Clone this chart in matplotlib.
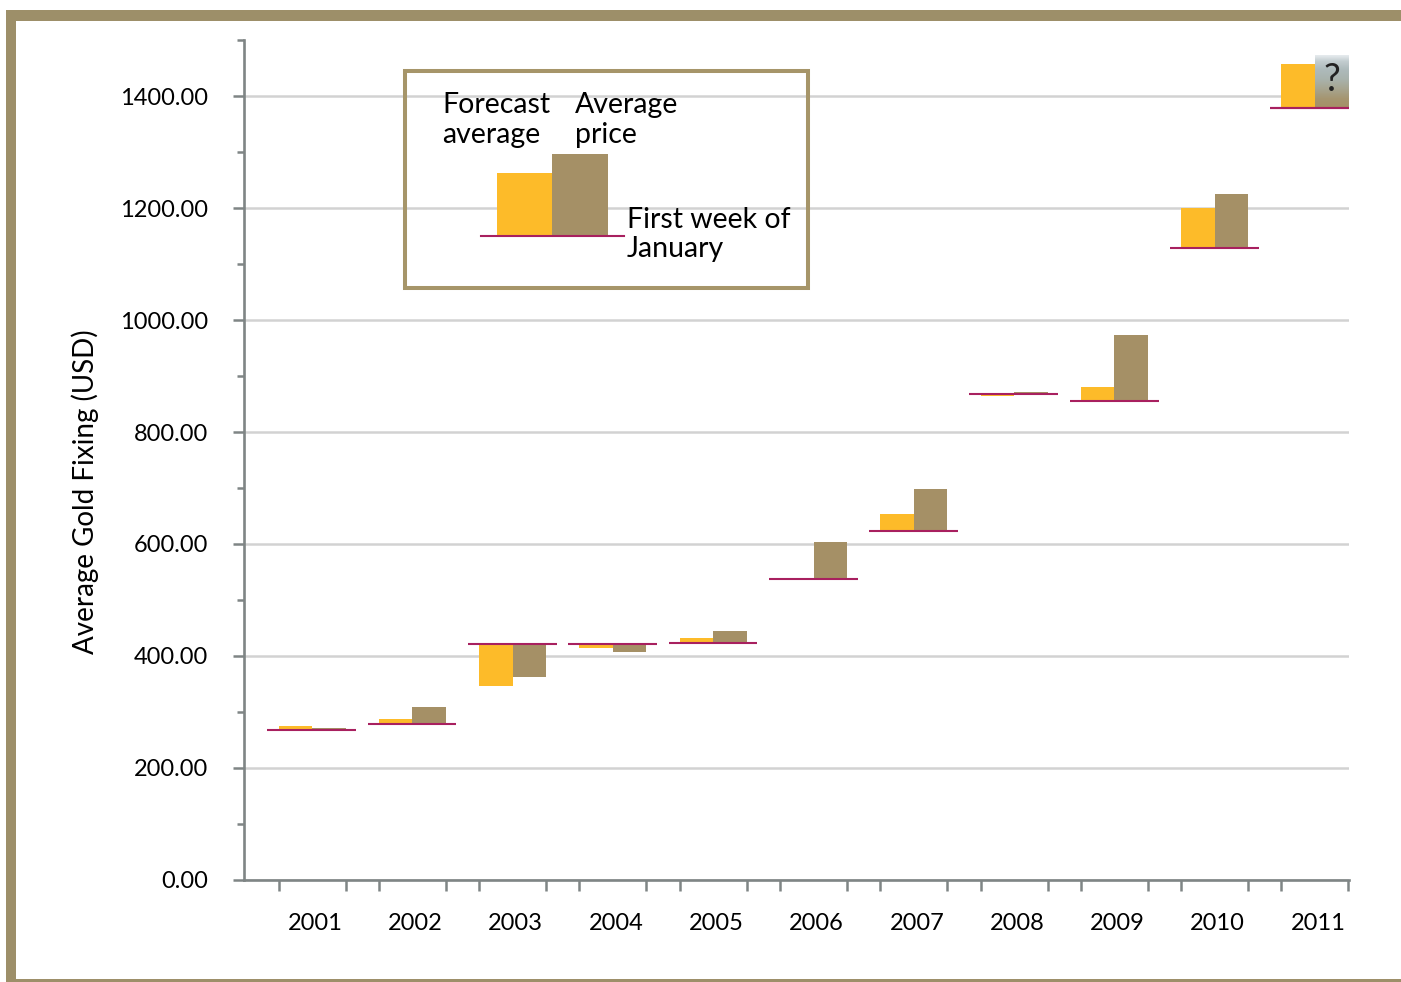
import numpy as np
import matplotlib
matplotlib.use('Agg')
import matplotlib.pyplot as plt
from matplotlib.patches import Rectangle
from matplotlib.lines import Line2D
from matplotlib.colors import LinearSegmentedColormap
from matplotlib.transforms import Affine2D

plt.rcParams['font.family'] = ['Lato', 'DejaVu Sans']

# ---- data ----
years = ['2001', '2002', '2003', '2004', '2005', '2006', '2007', '2008', '2009', '2010', '2011']
first_week = [267, 279, 421, 421, 424, 537, 624, 868, 856, 1129, 1379]
forecast = [275, 288, 346, 415, 433, 535, 653, 864, 880, 1200, 1458]
average = [271, 309, 363, 408, 445, 603, 699, 872, 973, 1225, 1473]
y_ticks = [0, 200, 400, 600, 800, 1000, 1200, 1400]
y_minor = [100, 300, 500, 700, 900, 1100, 1300, 1500]

# ---- style ----
ORANGE = '#FDBB29'
BROWN = '#A59066'
MAGENTA = '#A8205F'
AXGRAY = '#7F8585'
GRID = '#D2D2D2'
BORDER = '#9D8F69'

W, H = 1401, 982
fig = plt.figure(figsize=(W / 100, H / 100), dpi=100)
tp = Affine2D().scale(1 / W, -1 / H).translate(0, 1) + fig.transFigure

ax = fig.add_axes([244 / W, 1 - 880 / H, (1349 - 244) / W, (880 - 40) / H])

x = np.arange(len(years))
fw = np.array(first_week, dtype=float)
fc = np.array(forecast, dtype=float)
av = np.array(average, dtype=float)
bw = 0.334

ax.bar(x - bw / 2, fc - fw, bottom=fw, width=bw, color=ORANGE, zorder=3)
bars = ax.bar(x + bw / 2, av - fw, bottom=fw, width=bw, color=BROWN, zorder=3)
ax.hlines(fw, x - 0.445, x + 0.44, color=MAGENTA, lw=1.5, zorder=4)

# unknown 2011 average: gradient box with question mark
r = bars[-1]
x0, x1 = r.get_x(), r.get_x() + r.get_width()
y0, y1 = r.get_y(), r.get_y() + r.get_height()
cmap = LinearSegmentedColormap.from_list('q', [
    (0.0, '#A59066'), (0.17, '#A59570'), (0.36, '#A7A590'),
    (0.55, '#A9B3AD'), (0.74, '#AEBBBC'), (0.89, '#C3CDD0'), (1.0, '#E6EBEE')])
grad = np.linspace(1, 0, 100).reshape(-1, 1)
ax.imshow(grad, extent=[x0, x1, y0, y1], aspect='auto', cmap=cmap, zorder=3.5,
          interpolation='bilinear')
ax.hlines([fw[-1]], x[-1] - 0.445, x[-1] + 0.44, color=MAGENTA, lw=1.5, zorder=4)
ax.text(x[-1] + bw / 2, (y0 + y1) / 2 + 3, '?', ha='center', va='center',
        fontsize=27, color='#222222', zorder=6)

# axes
ax.set_xlim(-0.678, 10.339)
ax.set_ylim(0, 1500)
for s in ['top', 'right']:
    ax.spines[s].set_visible(False)
for s in ['left', 'bottom']:
    ax.spines[s].set_color(AXGRAY)
    ax.spines[s].set_linewidth(1.9)

ax.set_yticks(y_ticks)
ax.set_yticklabels([f'{v:.2f}' for v in y_ticks])
ax.set_yticks(y_minor, minor=True)
ax.yaxis.grid(True, which='major', color=GRID, lw=1.8)
ax.set_axisbelow(True)
ax.tick_params(axis='y', which='major', direction='out', length=8, width=1.8,
               color=AXGRAY, pad=18, labelsize=17)
ax.tick_params(axis='y', which='minor', direction='out', length=5, width=1.8,
               color=AXGRAY)

ax.set_xticks(x + 0.03)
ax.set_xticklabels(years)
ax.set_xticks(np.concatenate([x - bw, x + bw]), minor=True)
ax.tick_params(axis='x', which='major', length=0, pad=24, labelsize=17)
ax.tick_params(axis='x', which='minor', direction='out', length=8, width=1.8,
               color=AXGRAY)

ax.text(-0.1439, 0.4619, 'Average Gold Fixing (USD)', rotation=90,
        transform=ax.transAxes, ha='center', va='center', fontsize=20)

# legend box (explanatory key)
fig.patches.append(Rectangle((404.7, 70.5), 403.3, 217.2, fill=False,
                             ec='#A69569', lw=2.9, transform=tp))
fig.patches.append(Rectangle((497, 172.7), 55, 63, fc=ORANGE, ec='none', transform=tp))
fig.patches.append(Rectangle((552, 154), 56, 81.7, fc=BROWN, ec='none', transform=tp))
fig.lines.append(Line2D([481, 624], [235.7, 235.7], color=MAGENTA, lw=1.5, transform=tp))
for txt, px, py in [('Forecast', 442, 113), ('average', 442, 143),
                    ('Average', 575, 113), ('price', 575, 143),
                    ('First week of', 627, 228), ('January', 627, 257)]:
    fig.text(px, py, txt, transform=tp, fontsize=20.5, va='baseline', ha='left')

# outer frame (filled strips)
for (bx, by, bwid, bht) in [(6, 10, 10, 972), (6, 10, 1395, 11), (6, 979.5, 1395, 2.5)]:
    fig.patches.append(Rectangle((bx, by), bwid, bht, fc=BORDER, ec='none',
                                 transform=tp))

fig.savefig('out.png', dpi=100)
